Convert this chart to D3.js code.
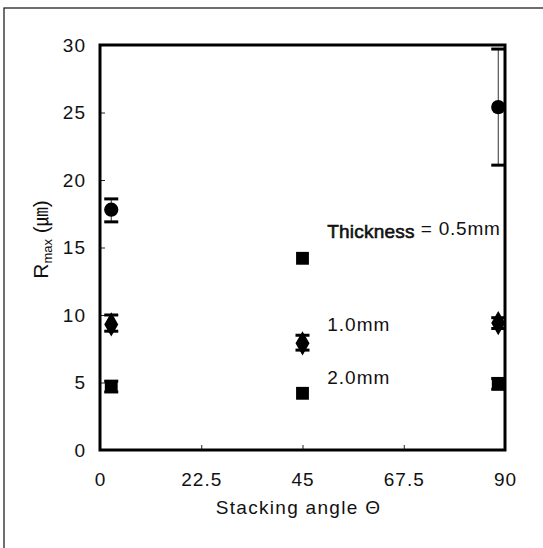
<!DOCTYPE html>
<html lang="en">
<head>
    <meta charset="UTF-8">
    <title>Rmax vs stacking angle</title>
    <script src="https://d3js.org/d3.v7.min.js"></script>
    <style>
        body { margin: 0; background: white; font-family: "Liberation Sans", Arial, sans-serif; }
        svg text { fill: #111; }
    </style>
</head>
<body>
    <script>
        // Data (x is the plotted angle, points are nudged off the frame)
        const angles = [2.5, 45, 88.5];
        const xTicks = [0, 22.5, 45, 67.5, 90];
        const yTicks = [0, 5, 10, 15, 20, 25, 30];

        const r05 = [17.8, 14.2, 25.4];
        const r05Lo = [16.9, null, 21.1];
        const r05Hi = [18.6, null, 29.7];
        const r05Shape = ["circle", "square", "circle"];

        const r10 = [9.3, 7.9, 9.4];
        const r10Lo = [8.8, 7.4, 9.0];
        const r10Hi = [10.0, 8.5, 9.8];

        const r20 = [4.7, 4.2, 4.9];
        const r20Lo = [4.3, null, 4.5];
        const r20Hi = [5.1, null, 5.3];

        const labels = [
            { text: "Thickness", extra: " = 0.5mm", at: 15.7, heavy: true },
            { text: "1.0mm", extra: "", at: 8.8, heavy: false },
            { text: "2.0mm", extra: "", at: 4.9, heavy: false }
        ];

        const W = 543, H = 548;
        const plot = { left: 100, right: 505, top: 45, bottom: 450 };

        const svg = d3.select("body").append("svg")
            .attr("width", W)
            .attr("height", H);

        // scanned page frame (only left and top edges show)
        svg.append("rect")
            .attr("x", 4).attr("y", 8)
            .attr("width", W + 20).attr("height", H + 20)
            .attr("fill", "none")
            .attr("stroke", "#222")
            .attr("stroke-width", 1.3);

        const x = d3.scaleLinear().domain([0, 90]).range([plot.left, plot.right]);
        const y = d3.scaleLinear().domain([0, 30]).range([plot.bottom, plot.top]);

        // x axis
        const xAxis = svg.append("g")
            .attr("transform", `translate(0,${plot.bottom})`)
            .call(d3.axisBottom(x).tickValues(xTicks).tickSize(-5).tickPadding(23)
                .tickFormat(d => d));
        xAxis.select(".domain").remove();

        // y axis
        const yAxis = svg.append("g")
            .attr("transform", `translate(${plot.left},0)`)
            .call(d3.axisLeft(y).tickValues(yTicks).tickSize(-5).tickPadding(14));
        yAxis.select(".domain").remove();

        svg.selectAll(".tick line").attr("stroke", "#222").attr("stroke-width", 1);
        svg.selectAll(".tick text")
            .style("font-family", "'Liberation Sans', Arial, sans-serif")
            .style("font-size", "19px")
            .style("letter-spacing", "1px");

        // heavy frame round the plot
        svg.append("rect")
            .attr("x", plot.left).attr("y", plot.top)
            .attr("width", plot.right - plot.left)
            .attr("height", plot.bottom - plot.top)
            .attr("fill", "none")
            .attr("stroke", "#000")
            .attr("stroke-width", 3);

        // error bars
        const capW = 14;
        function errorBars(lo, hi) {
            const g = svg.append("g");
            angles.forEach((a, i) => {
                if (lo[i] == null) return;
                const cx = x(a);
                g.append("line")
                    .attr("x1", cx).attr("x2", cx)
                    .attr("y1", y(lo[i])).attr("y2", y(hi[i]))
                    .attr("stroke", "#333").attr("stroke-width", 1);
                [lo[i], hi[i]].forEach(v => {
                    g.append("line")
                        .attr("x1", cx - capW / 2).attr("x2", cx + capW / 2)
                        .attr("y1", y(v)).attr("y2", y(v))
                        .attr("stroke", "#000").attr("stroke-width", 3);
                });
            });
        }
        errorBars(r05Lo, r05Hi);
        errorBars(r10Lo, r10Hi);
        errorBars(r20Lo, r20Hi);

        // markers
        const symCircle = d3.symbol().type(d3.symbolCircle).size(160);
        const symSquare = d3.symbol().type(d3.symbolSquare).size(165);
        const symDiamond = d3.symbol().type(d3.symbolDiamond).size(170);

        svg.append("g").selectAll("path")
            .data(angles.map((a, i) => ({ a, v: r05[i], s: r05Shape[i] })))
            .join("path")
            .attr("transform", d => `translate(${x(d.a)},${y(d.v)})`)
            .attr("d", d => d.s === "circle" ? symCircle() : symSquare())
            .attr("fill", "#000");

        svg.append("g").selectAll("path")
            .data(angles.map((a, i) => ({ a, v: r10[i] })))
            .join("path")
            .attr("transform", d => `translate(${x(d.a)},${y(d.v)})`)
            .attr("d", symDiamond())
            .attr("fill", "#000");

        svg.append("g").selectAll("path")
            .data(angles.map((a, i) => ({ a, v: r20[i] })))
            .join("path")
            .attr("transform", d => `translate(${x(d.a)},${y(d.v)})`)
            .attr("d", symSquare())
            .attr("fill", "#000");

        // series labels
        labels.forEach(l => {
            const t = svg.append("text")
                .attr("x", x(50.5))
                .attr("y", y(l.at))
                .style("font-size", "19px")
                .style("letter-spacing", "1px");
            const main = t.append("tspan").text(l.text);
            if (l.heavy) {
                main.style("letter-spacing", "0.2px")
                    .attr("stroke", "#111").attr("stroke-width", 0.6);
            }
            if (l.extra) t.append("tspan").attr("dy", -3).style("letter-spacing", "0.8px").text(l.extra);
        });

        // axis titles
        svg.append("text")
            .attr("x", (plot.left + plot.right) / 2 - 4)
            .attr("y", 514)
            .attr("text-anchor", "middle")
            .style("font-size", "19px")
            .style("letter-spacing", "1.3px")
            .text("Stacking angle Θ");

        const yl = svg.append("text")
            .attr("transform", `translate(48,${(plot.top + plot.bottom) / 2 - 8}) rotate(-90)`)
            .attr("text-anchor", "middle")
            .style("font-size", "21px");
        yl.append("tspan").text("R");
        yl.append("tspan").attr("dy", 4).style("font-size", "13px").text("max");
        yl.append("tspan").attr("dy", -4).text(" (");
        yl.append("tspan").style("font-family", "'Noto Sans CJK KR', sans-serif").style("font-size", "19px").text("㎛");
        yl.append("tspan").text(")");
    </script>
</body>
</html>
